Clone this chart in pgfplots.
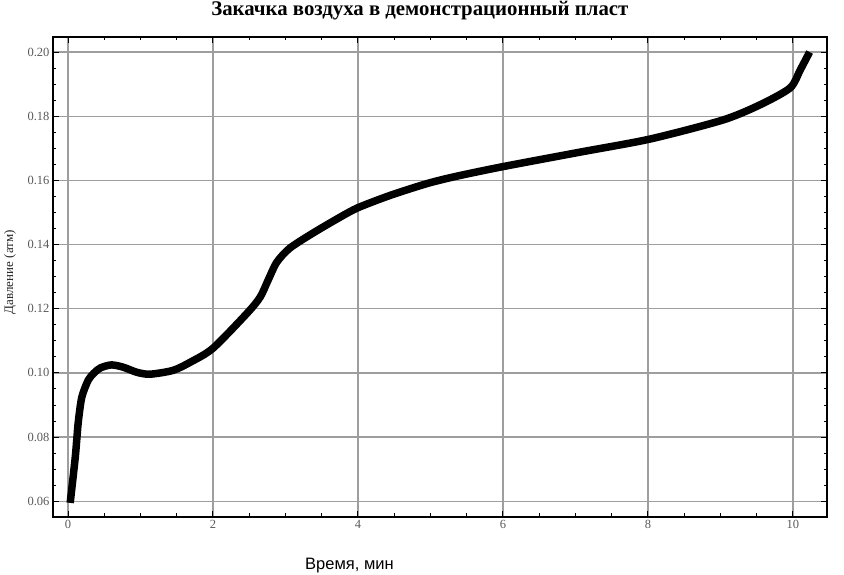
\documentclass[border=0pt]{standalone}
\usepackage{fontspec}
\setmainfont{Liberation Serif}
\newfontfamily\arialfont{Liberation Sans}
\usepackage{pgfplots}
\pgfplotsset{compat=1.18}

\begin{document}
\begin{tikzpicture}
\begin{axis}[
  scale only axis,
  width=774pt, height=480pt,
  xmin=-0.207, xmax=10.47,
  ymin=0.0551, ymax=0.2047,
  xtick={0,2,4,6,8,10},
  ytick={0.06,0.08,0.10,0.12,0.14,0.16,0.18,0.20},
  minor x tick num=3,
  minor y tick num=3,
  tick align=inside,
  tick pos=both,
  xticklabel pos=lower,
  yticklabel pos=left,
  major tick length=6pt,
  minor tick length=3.5pt,
  every tick/.style={black, line width=1pt},
  axis line style={black, line width=1.3pt},
  grid=major,
  major grid style={black!38, line width=1.3pt},
  /pgf/number format/assume math mode=true,
  y tick label style={/pgf/number format/fixed, /pgf/number format/fixed zerofill, /pgf/number format/precision=2},
  ticklabel style={font=\fontsize{12.5}{13}\selectfont, text=black!65},
  title={Закачка воздуха в демонстрационный пласт},
  title style={at={(0.474,1)}, anchor=base, yshift=15pt, inner sep=0pt,
    font=\bfseries\fontsize{20.8}{22}\selectfont},
  xlabel={Время, мин},
  xlabel style={at={(0.383,0)}, anchor=base, yshift=-53pt, inner sep=0pt,
    font=\arialfont\fontsize{16.5}{18}\selectfont},
  ylabel={Давление (атм)},
  ylabel style={at={(0,0.51)}, anchor=center, yshift=43pt, inner sep=0pt,
    font=\fontsize{13}{14}\selectfont, text=black!85},
]
\addplot[black, line width=7.5pt, smooth, tension=0.45] coordinates {
(0.03,0.0595)
(0.10,0.0737)
(0.14,0.0843)
(0.19,0.0924)
(0.28,0.0978)
(0.36,0.1000)
(0.45,0.1016)
(0.60,0.1025)
(0.76,0.1018)
(0.95,0.1002)
(1.13,0.0996)
(1.45,0.1008)
(1.70,0.1035)
(2.00,0.1077)
(2.47,0.1186)
(2.65,0.1236)
(2.76,0.1289)
(2.88,0.1345)
(3.06,0.1389)
(3.38,0.1436)
(3.75,0.1485)
(4.00,0.1515)
(4.44,0.1553)
(4.95,0.1590)
(5.36,0.1613)
(6.00,0.1643)
(7.06,0.1688)
(8.03,0.1729)
(9.03,0.1788)
(9.54,0.1835)
(9.96,0.1888)
(10.10,0.1944)
(10.23,0.2000)
};
\end{axis}
\pgfresetboundingbox
\path ([xshift=-53pt,yshift=-58pt]current axis.south west) rectangle ([xshift=17pt,yshift=37pt]current axis.north east);
\end{tikzpicture}
\end{document}
